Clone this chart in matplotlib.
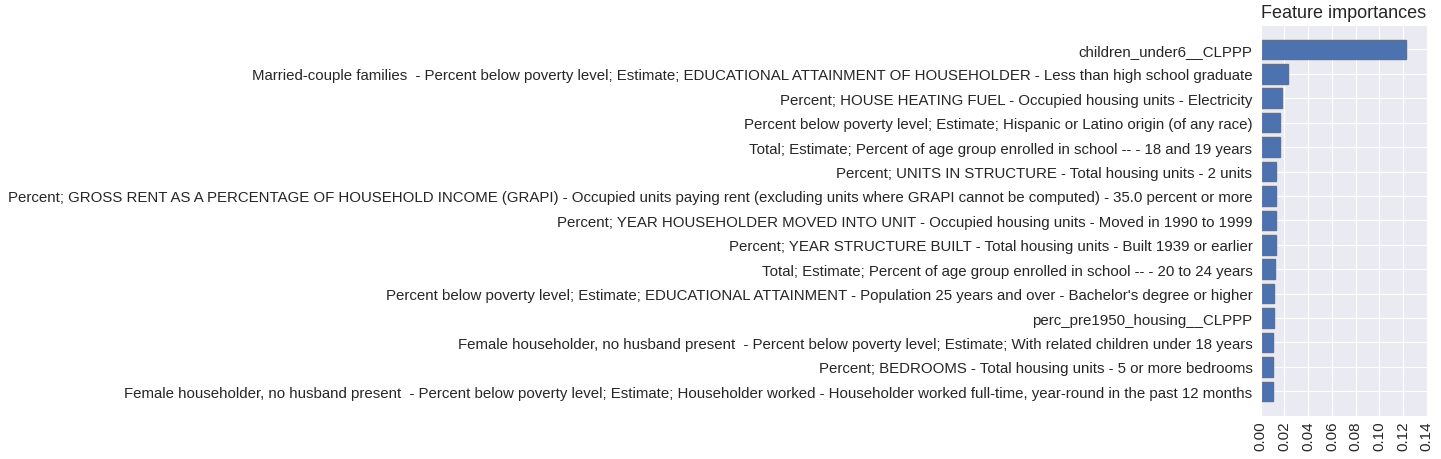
import matplotlib
matplotlib.use("Agg")
import matplotlib.pyplot as plt
import seaborn as sns

sns.set_style("darkgrid")
plt.rcParams['font.family'] = ['Liberation Sans', 'DejaVu Sans']

features = [
    "children_under6__CLPPP",
    "Married-couple families  - Percent below poverty level; Estimate; EDUCATIONAL ATTAINMENT OF HOUSEHOLDER - Less than high school graduate",
    "Percent; HOUSE HEATING FUEL - Occupied housing units - Electricity",
    "Percent below poverty level; Estimate; Hispanic or Latino origin (of any race)",
    "Total; Estimate; Percent of age group enrolled in school -- - 18 and 19 years",
    "Percent; UNITS IN STRUCTURE - Total housing units - 2 units",
    "Percent; GROSS RENT AS A PERCENTAGE OF HOUSEHOLD INCOME (GRAPI) - Occupied units paying rent (excluding units where GRAPI cannot be computed) - 35.0 percent or more",
    "Percent; YEAR HOUSEHOLDER MOVED INTO UNIT - Occupied housing units - Moved in 1990 to 1999",
    "Percent; YEAR STRUCTURE BUILT - Total housing units - Built 1939 or earlier",
    "Total; Estimate; Percent of age group enrolled in school -- - 20 to 24 years",
    "Percent below poverty level; Estimate; EDUCATIONAL ATTAINMENT - Population 25 years and over - Bachelor's degree or higher",
    "perc_pre1950_housing__CLPPP",
    "Female householder, no husband present  - Percent below poverty level; Estimate; With related children under 18 years",
    "Percent; BEDROOMS - Total housing units - 5 or more bedrooms",
    "Female householder, no husband present  - Percent below poverty level; Estimate; Householder worked - Householder worked full-time, year-round in the past 12 months",
]
importances = [0.1228, 0.0228, 0.0178, 0.0162, 0.0162, 0.0125, 0.0125, 0.0125,
               0.0125, 0.0117, 0.0109, 0.0109, 0.0103, 0.0103, 0.0100]

n = len(features)
# top-to-bottom order -> positions from n-1 down to 0
pos = list(range(n - 1, -1, -1))

fig = plt.figure(figsize=(14.41, 4.60), dpi=100)
ax = fig.add_axes([0.8749, 0.0941, 0.9901 - 0.8749, 0.9435 - 0.0941])
ax.barh(pos, importances, height=0.8, color="#4C72B0", edgecolor="#5f6f8f",
        linewidth=1.0, align="center", zorder=2)
ax.set_yticks(pos)
ax.set_yticklabels(features, fontsize=10.8)
ax.set_ylim(-1, n)
ax.set_xlim(0, 0.14)
ax.set_xticks([0.0, 0.02, 0.04, 0.06, 0.08, 0.10, 0.12, 0.14])
ax.set_xticklabels(["0.00", "0.02", "0.04", "0.06", "0.08", "0.10", "0.12", "0.14"],
                   rotation=90, fontsize=11)
ax.set_title("Feature importances", fontsize=13)
ax.tick_params(axis='both', length=0)
ax.tick_params(axis='y', pad=6)

fig.savefig("out.png", dpi=100)
